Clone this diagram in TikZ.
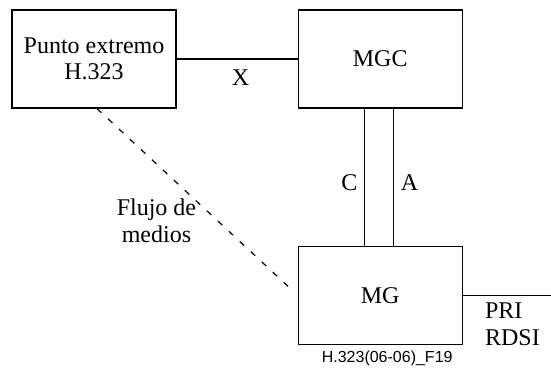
\documentclass[tikz,border=0pt]{standalone}
\usepackage{fontspec}
\setmainfont{Liberation Serif}
\setsansfont{Liberation Sans}
\newfontfamily\serifface{Liberation Serif}
\usetikzlibrary{positioning, calc}

\begin{document}
\begin{tikzpicture}[
        block/.style={draw=black, line width=0.6pt, rectangle, minimum width=82pt, minimum height=49pt, align=center, font=\serifface\fontsize{12}{13}\selectfont},
        link/.style={line width=0.6pt},
        flow/.style={line width=0.6pt, dash pattern=on 3pt off 4.5pt},
        linklabel/.style={font=\serifface\fontsize{12}{13.5}\selectfont},
        figref/.style={font=\sffamily\fontsize{8}{9}\selectfont, inner sep=0pt}
    ]

    \useasboundingbox (0,0) rectangle (275.5pt,-188pt);

    % Nodes
    \node[block] (ep) at (47pt,-29.5pt) {Punto extremo\\H.323};
    \node[block, right=60.5pt of ep] (mgc) {MGC};
    \node[block, below=68.5pt of mgc] (mg) {MG};
    \coordinate (pri) at ([xshift=45pt]mg.east);
    \node[figref, below=3pt of mg, xshift=3.5pt] (ref) {H.323(06-06)\_F19};

    % Connectors
    \draw[link] (ep.east) -- (mgc.west) node[midway, below, linklabel, xshift=1.75pt, yshift=-2pt] {X};

    \draw[link] ([xshift=-7.75pt]mgc.south) -- ([xshift=-7.75pt]mg.north) node[pos=0.54, left, linklabel] {C};

    \draw[link] ([xshift=6.75pt]mgc.south) -- ([xshift=6.75pt]mg.north) node[pos=0.54, right, linklabel] {A};

    \draw[flow, shorten >=2pt] ([xshift=1.5pt]ep.south) -- (mg.west) node[pos=0.6, left, align=center, linklabel, xshift=-7pt] {Flujo de\\medios};

    \draw[link] (mg.east) -- (pri) node[pos=0, anchor=north west, xshift=7.5pt, align=left, linklabel] {PRI\\RDSI};

\end{tikzpicture}
\end{document}
